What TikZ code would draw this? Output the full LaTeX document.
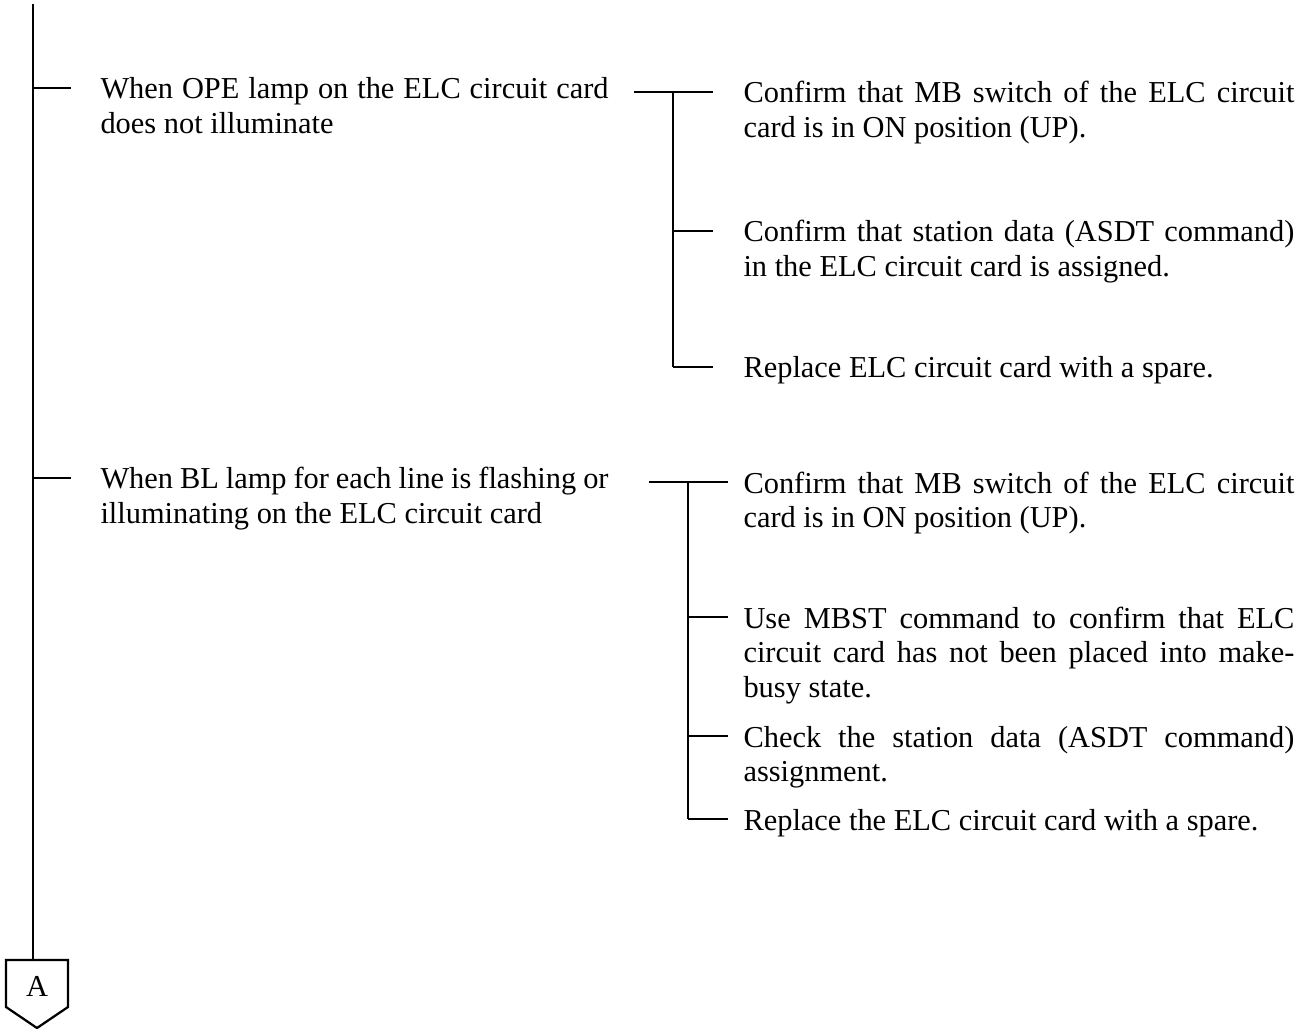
\documentclass[tikz,border=0pt]{standalone}
\usepackage{fontspec}
\setmainfont{Liberation Serif}
\usetikzlibrary{calc}
\hyphenpenalty=10000
\tolerance=10000

\begin{document}
\begin{tikzpicture}[
    x=0.375pt, y=-0.375pt,
    wire/.style={line width=0.85pt},
    cause/.style={anchor=base west,inner sep=0pt,text width=190.5pt,align=justify,font=\fontsize{11.4}{12.94}\selectfont},
    action/.style={cause,text width=206.6pt},
]
    \useasboundingbox (0,0) rectangle (1312,1029);

    % main line and off-page connector
    \coordinate (top) at (33,4);
    \coordinate (Atop) at (33,960);
    \draw[wire] (top) -- (Atop);
    \node[font=\fontsize{11.4}{12.94}\selectfont] (A) at (37,986) {A};
    \draw[wire] (6,960) -- (68,960) -- (68,1007) -- (37,1028) -- (6,1007) -- cycle;

    % symptoms
    \node[cause] (ope) at (100,99) {When OPE lamp on the ELC circuit card\linebreak does not illuminate};
    \node[cause] (bl) at (100,489) {When BL lamp for each line is flashing or\linebreak illuminating on the ELC circuit card};
    \foreach \n in {ope,bl} {
        \coordinate (\n-in) at ($(\n.base west)+(-29,-11)$);
        \draw[wire] (top |- \n-in) -- (\n-in);
    }

    % checks for OPE lamp
    \node[action] (mbsw1) at (743,103) {Confirm that MB switch of the ELC circuit\linebreak card is in ON position (UP).};
    \node[action] (asdt1) at (743,242) {Confirm that station data (ASDT command)\linebreak in the ELC circuit card is assigned.};
    \node[action] (spare1) at (743,378) {Replace ELC circuit card with a spare.};
    \coordinate (g1) at (673,92);
    \draw[wire] ($(g1)+(-39,0)$) -- (g1);
    \foreach \n in {mbsw1,asdt1,spare1} {
        \coordinate (\n-in) at ($(\n.base west)+(0,-11)$);
        \draw[wire] (g1 |- \n-in) -- ($(g1 |- \n-in)+(40,0)$);
    }
    \draw[wire] (g1) -- (g1 |- spare1-in);

    % checks for BL lamp
    \node[action] (mbsw2) at (743,493) {Confirm that MB switch of the ELC circuit\linebreak card is in ON position (UP).};
    \node[action] (mbst2) at (743,628) {Use MBST command to confirm that ELC\linebreak circuit card has not been placed into make-\linebreak busy state.};
    \node[action] (asdt2) at (743,747) {Check the station data (ASDT command)\linebreak assignment.};
    \node[action] (spare2) at (743,830) {Replace the ELC circuit card with a spare.};
    \coordinate (g2) at (688,482);
    \draw[wire] ($(g2)+(-39,0)$) -- (g2);
    \foreach \n in {mbsw2,mbst2,asdt2,spare2} {
        \coordinate (\n-in) at ($(\n.base west)+(0,-11)$);
        \draw[wire] (g2 |- \n-in) -- ($(g2 |- \n-in)+(40,0)$);
    }
    \draw[wire] (g2) -- (g2 |- spare2-in);
\end{tikzpicture}
\end{document}
